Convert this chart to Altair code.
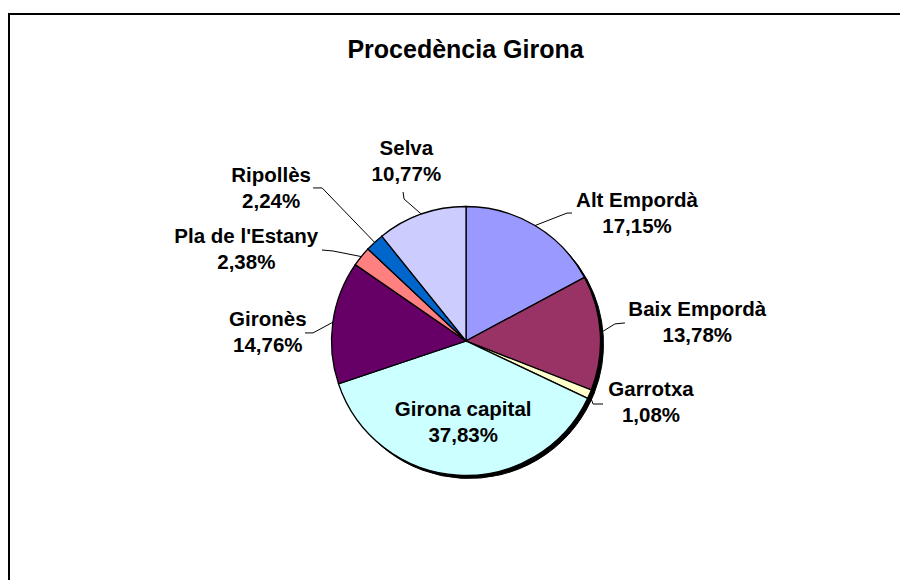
import altair as alt
import pandas as pd

# ---- data ----
names = ["Alt Empordà", "Baix Empordà", "Garrotxa", "Girona capital",
         "Gironès", "Pla de l'Estany", "Ripollès", "Selva"]
values = [17.15, 13.78, 1.08, 37.83, 14.76, 2.38, 2.24, 10.77]
colors = ["#9999FF", "#993366", "#FFFFCC", "#CCFFFF",
          "#660066", "#FF8080", "#0066CC", "#CCCCFF"]

# ---- label placement (offsets from slice mid-point on rim, px) ----
label_dx = [102, 97, 61.5, 5, -65, -115, -103.5, -15]
label_dy = [-11.5, -10, 8.8, -52.3, 10.7, -6.6, -53.4, -52.6]
has_leader = [True, True, True, False, True, True, True, True]
elbow_dx = [32, 14.7, 3.5, 0, -19.8, -28.3, -52.5, -17.3]
elbow_dy = [-12.5, -9, 9.8, 0, 10.7, -5.6, -54.4, -15.1]
end_dx = [37, 24.7, 13.5, 0, -27.8, -39.3, -61.5, -18.3]
end_dy = [-12.5, -10, 9.8, 0, 10.7, -6.6, -54.4, -22.1]

CX, CY, R = 458, 333, 134.5
W, H = 892, 572
FONT = "Liberation Sans"

df = pd.DataFrame({
    "idx": list(range(len(names))),
    "name": names,
    "value": values,
    "ldx": label_dx, "ldy": label_dy,
    "leader": has_leader,
    "edx": elbow_dx, "edy": elbow_dy,
    "fdx": end_dx, "fdy": end_dy,
})

base = alt.Chart(df).transform_window(
    cum_end="sum(value)", sort=[alt.SortField("idx")], frame=[None, 0]
).transform_joinaggregate(
    total="sum(value)"
).transform_calculate(
    ang=f"2*PI*(datum.cum_end - datum.value/2)/datum.total"
).transform_calculate(
    rimx=f"{CX} + {R}*sin(datum.ang)",
    rimy=f"{CY} - {R}*cos(datum.ang)",
).transform_calculate(
    labx="datum.rimx + datum.ldx",
    laby="datum.rimy + datum.ldy",
    elbx="datum.rimx + datum.edx",
    elby="datum.rimy + datum.edy",
    endx="datum.rimx + datum.fdx",
    endy="datum.rimy + datum.fdy",
    pct="replace(format(datum.value, '.2f'), '.', ',') + '%'",
)

shadow = alt.Chart(df).mark_arc(outerRadius=R, fill="black", stroke="black").encode(
    theta=alt.Theta("value:Q", stack=True),
    order=alt.Order("idx:Q"),
    x=alt.value(CX + 3), y=alt.value(CY + 3),
)

pie = alt.Chart(df).mark_arc(outerRadius=R, stroke="black", strokeWidth=1.3).encode(
    theta=alt.Theta("value:Q", stack=True),
    order=alt.Order("idx:Q"),
    color=alt.Color("name:N", scale=alt.Scale(domain=names, range=colors), legend=None),
    x=alt.value(CX), y=alt.value(CY),
)

xs = dict(scale=None, axis=None)

lead1 = base.transform_filter("datum.leader").mark_rule(color="black", strokeWidth=1).encode(
    x=alt.X("rimx:Q", **xs), y=alt.Y("rimy:Q", **xs),
    x2="elbx:Q", y2="elby:Q",
)
lead2 = base.transform_filter("datum.leader").mark_rule(color="black", strokeWidth=1).encode(
    x=alt.X("elbx:Q", **xs), y=alt.Y("elby:Q", **xs),
    x2="endx:Q", y2="endy:Q",
)

txt_kw = dict(font=FONT, fontSize=20.5, fontWeight="bold", color="black",
              align="center", baseline="middle")
lab_name = base.mark_text(dy=-13, **txt_kw).encode(
    x=alt.X("labx:Q", **xs), y=alt.Y("laby:Q", **xs), text="name:N")
lab_pct = base.mark_text(dy=13, **txt_kw).encode(
    x=alt.X("labx:Q", **xs), y=alt.Y("laby:Q", **xs), text="pct:N")

one = pd.DataFrame({"t": ["Procedència Girona"]})
title = alt.Chart(one).mark_text(font=FONT, fontSize=25, fontWeight="bold", color="black",
                                 align="center", baseline="middle").encode(
    x=alt.value(457.5), y=alt.value(42), text="t:N")

border_top = alt.Chart(one).mark_rule(color="black", strokeWidth=2).encode(
    x=alt.value(0), x2=alt.value(W), y=alt.value(6))
border_left = alt.Chart(one).mark_rule(color="black", strokeWidth=2).encode(
    x=alt.value(1), y=alt.value(6), y2=alt.value(H))

chart = alt.layer(
    border_top, border_left, title, shadow, pie, lead1, lead2, lab_name, lab_pct
).properties(
    width=W, height=H, autosize=alt.AutoSizeParams(type="none"), padding=0,
    background="white",
).configure_view(stroke=None)

chart.save("out.html", embed_options={"renderer": "svg", "actions": False})
